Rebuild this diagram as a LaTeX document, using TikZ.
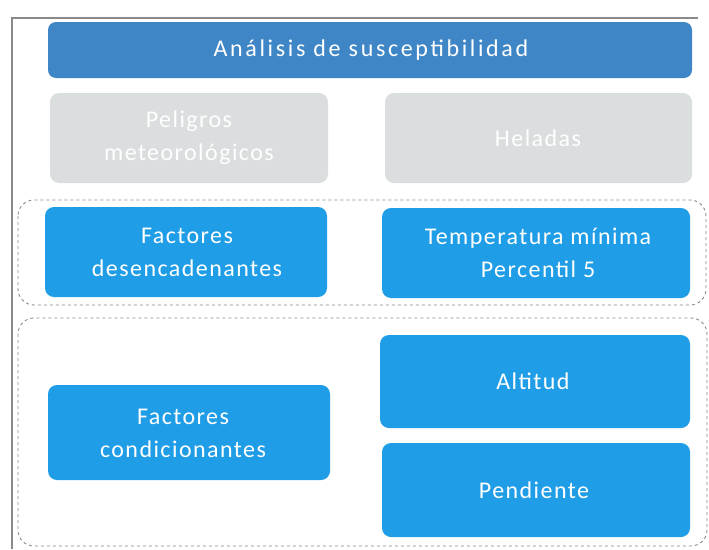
\documentclass[tikz,border=0pt]{standalone}
\usepackage{fontspec}
\setmainfont{Carlito}
\newfontfamily\boxfont[LetterSpace=6]{Carlito}
\newfontfamily\titlefont[LetterSpace=11]{Carlito}
\definecolor{titleblue}{HTML}{3F86C6}
\definecolor{boxblue}{HTML}{1F9DE6}
\definecolor{boxgray}{HTML}{DADEDE}
\definecolor{framegray}{HTML}{8A8A8A}
\begin{document}
\begin{tikzpicture}[x=1pt,y=-1pt,
  box/.style={rounded corners=9pt},
  bluebox/.style={box,fill=boxblue},
  graybox/.style={box,fill=boxgray},
  label/.style={text=white,align=center,font=\boxfont\fontsize{24}{33}\selectfont},
  group/.style={draw=framegray,dashed,line width=0.9pt,rounded corners=16pt}]
\useasboundingbox[fill=white] (0,0) rectangle (709,549);
% frame
\draw[framegray,line width=1.2pt] (12,549) -- (12,18) -- (698,18);
% title
\path[fill=titleblue,rounded corners=8pt] (48,22) rectangle (692,78);
\node[text=white,font=\titlefont\fontsize{24}{28}\selectfont] (title) at (371,50) {Análisis de susceptibilidad};
% gray row
\path[graybox] (50,93) rectangle (328,183);
\node[label] (pel) at (189,138) {Peligros\\meteorológicos};
\path[graybox] (385,93) rectangle (692,183);
\node[label] (hel) at (538,138) {Heladas};
% group 1
\draw[group] (18,200) rectangle (706,305);
\path[bluebox] (45,207) rectangle (327,297);
\node[label] (fd) at (187,252) {Factores\\desencadenantes};
\path[bluebox] (382,208) rectangle (690,298);
\node[label] (tm) at (538,253) {Temperatura mínima\\Percentil 5};
% group 2
\draw[group] (18,318) rectangle (707,546);
\path[bluebox] (48,385) rectangle (330,480);
\node[label] (fc) at (183,433) {Factores\\condicionantes};
\path[bluebox] (380,335) rectangle (690,428);
\node[label] (alt) at (533,381) {Altitud};
\path[bluebox] (382,443) rectangle (690,537);
\node[label] (pen) at (534,490) {Pendiente};
\end{tikzpicture}
\end{document}
